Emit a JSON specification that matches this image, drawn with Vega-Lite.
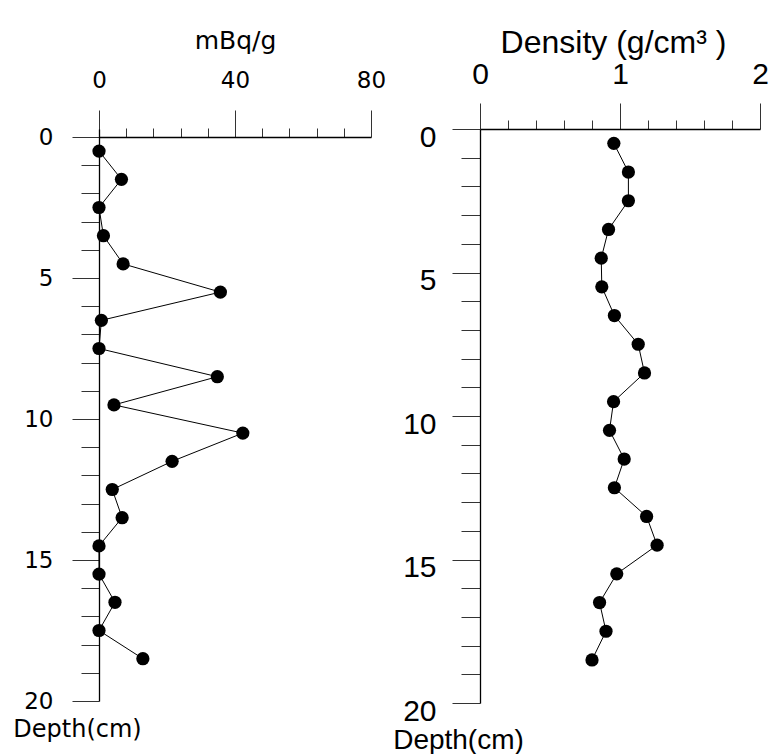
{
  "$schema": "https://vega.github.io/schema/vega-lite/v6.json",
  "background": "white",
  "padding": {"left": 12, "top": 26, "right": 0, "bottom": 0},
  "spacing": 6,
  "config": {
    "view": {"stroke": null},
    "axis": {
      "grid": false,
      "domainColor": "black",
      "domainWidth": 1.3,
      "tickColor": "#333333",
      "tickWidth": 1,
      "labelColor": "black",
      "titleColor": "black",
      "titleFontWeight": "normal",
      "labelOverlap": false,
      "labelFlush": false
    }
  },
  "datasets": {
    "cs": [
      {"depth": 0.5, "value": 0},
      {"depth": 1.5, "value": 6.6},
      {"depth": 2.5, "value": 0},
      {"depth": 3.5, "value": 1.3},
      {"depth": 4.5, "value": 7.1},
      {"depth": 5.5, "value": 35.7},
      {"depth": 6.5, "value": 0.7},
      {"depth": 7.5, "value": 0},
      {"depth": 8.5, "value": 34.8},
      {"depth": 9.5, "value": 4.4},
      {"depth": 10.5, "value": 42.3},
      {"depth": 11.5, "value": 21.5},
      {"depth": 12.5, "value": 3.9},
      {"depth": 13.5, "value": 6.8},
      {"depth": 14.5, "value": 0},
      {"depth": 15.5, "value": 0},
      {"depth": 16.5, "value": 4.7},
      {"depth": 17.5, "value": 0},
      {"depth": 18.5, "value": 12.9}
    ],
    "dens": [
      {"depth": 0.5, "value": 0.956},
      {"depth": 1.5, "value": 1.06},
      {"depth": 2.5, "value": 1.06},
      {"depth": 3.5, "value": 0.918},
      {"depth": 4.5, "value": 0.866},
      {"depth": 5.5, "value": 0.87},
      {"depth": 6.5, "value": 0.96},
      {"depth": 7.5, "value": 1.13},
      {"depth": 8.5, "value": 1.175},
      {"depth": 9.5, "value": 0.954},
      {"depth": 10.5, "value": 0.925},
      {"depth": 11.5, "value": 1.03},
      {"depth": 12.5, "value": 0.96},
      {"depth": 13.5, "value": 1.19},
      {"depth": 14.5, "value": 1.265},
      {"depth": 15.5, "value": 0.977},
      {"depth": 16.5, "value": 0.854},
      {"depth": 17.5, "value": 0.9},
      {"depth": 18.5, "value": 0.8}
    ]
  },
  "hconcat": [
    {
      "width": 272,
      "height": 572,
      "data": {"name": "cs"},
      "encoding": {
        "x": {
          "field": "value",
          "type": "quantitative",
          "scale": {"domain": [0, 80], "nice": false},
          "axis": {
            "orient": "top",
            "offset": -8,
            "title": "mBq/g",
            "titleFont": "DejaVu Sans",
            "titleFontSize": 25,
            "titlePadding": 16,
            "labelFont": "DejaVu Sans",
            "labelFontSize": 23,
            "labelPadding": 18,
            "values": [0, 8, 16, 24, 32, 40, 48, 56, 64, 72, 80],
            "labelExpr": "datum.value % 40 === 0 ? datum.label : ''",
            "tickSize": {"condition": {"test": "datum.value % 40 === 0", "value": 27}, "value": 9}
          }
        },
        "y": {
          "field": "depth",
          "type": "quantitative",
          "scale": {"domain": [-0.284, 20], "reverse": true, "nice": false, "zero": false},
          "axis": {
            "orient": "left",
            "title": "Depth(cm)",
            "titleFont": "DejaVu Sans",
            "titleFontSize": 24,
            "titleAngle": 0,
            "titleAlign": "center",
            "titleBaseline": "middle",
            "titleX": -22,
            "titleY": 600,
            "labelFont": "DejaVu Sans",
            "labelFontSize": 23,
            "labelPadding": 19,
            "values": [0, 1, 2, 3, 4, 5, 6, 7, 8, 9, 10, 11, 12, 13, 14, 15, 16, 17, 18, 19, 20],
            "labelExpr": "datum.value % 5 === 0 ? datum.label : ''",
            "tickSize": {"condition": {"test": "datum.value % 5 === 0", "value": 27}, "value": 18}
          }
        }
      },
      "layer": [
        {
          "mark": {"type": "line", "color": "black", "strokeWidth": 1},
          "encoding": {"order": {"field": "depth", "type": "quantitative"}}
        },
        {
          "mark": {"type": "circle", "color": "black", "size": 175, "opacity": 1},
          "encoding": {}
        }
      ]
    },
    {
      "width": 280,
      "height": 574,
      "data": {"name": "dens"},
      "encoding": {
        "x": {
          "field": "value",
          "type": "quantitative",
          "scale": {"domain": [0, 2], "nice": false},
          "axis": {
            "orient": "top",
            "title": "Density (g/cm³ )",
            "titleFont": "Liberation Sans",
            "titleFontSize": 32,
            "titlePadding": 0,
            "titleX": 133,
            "titleAlign": "center",
            "labelFont": "Liberation Sans",
            "labelFontSize": 30,
            "labelPadding": 14,
            "values": [0, 0.2, 0.4, 0.6, 0.8, 1, 1.2, 1.4, 1.6, 1.8, 2],
            "labelExpr": "abs(datum.value - round(datum.value)) < 0.001 ? format(datum.value, 'd') : ''",
            "tickSize": {"condition": {"test": "abs(datum.value - round(datum.value)) < 0.001", "value": 26}, "value": 9}
          }
        },
        "y": {
          "field": "depth",
          "type": "quantitative",
          "scale": {"domain": [0, 20], "reverse": true, "nice": false},
          "axis": {
            "orient": "left",
            "title": "Depth(cm)",
            "titleFont": "Liberation Sans",
            "titleFontSize": 28,
            "titleAngle": 0,
            "titleAlign": "center",
            "titleBaseline": "middle",
            "titleX": -22,
            "titleY": 611,
            "labelFont": "Liberation Sans",
            "labelFontSize": 30,
            "labelPadding": 16,
            "labelOffset": 8,
            "values": [0, 1, 2, 3, 4, 5, 6, 7, 8, 9, 10, 11, 12, 13, 14, 15, 16, 17, 18, 19, 20],
            "labelExpr": "datum.value % 5 === 0 ? datum.label : ''",
            "tickSize": {"condition": {"test": "datum.value % 5 === 0", "value": 28}, "value": 19}
          }
        }
      },
      "layer": [
        {
          "mark": {"type": "line", "color": "black", "strokeWidth": 1},
          "encoding": {"order": {"field": "depth", "type": "quantitative"}}
        },
        {
          "mark": {"type": "circle", "color": "black", "size": 175, "opacity": 1},
          "encoding": {}
        }
      ]
    }
  ]
}
